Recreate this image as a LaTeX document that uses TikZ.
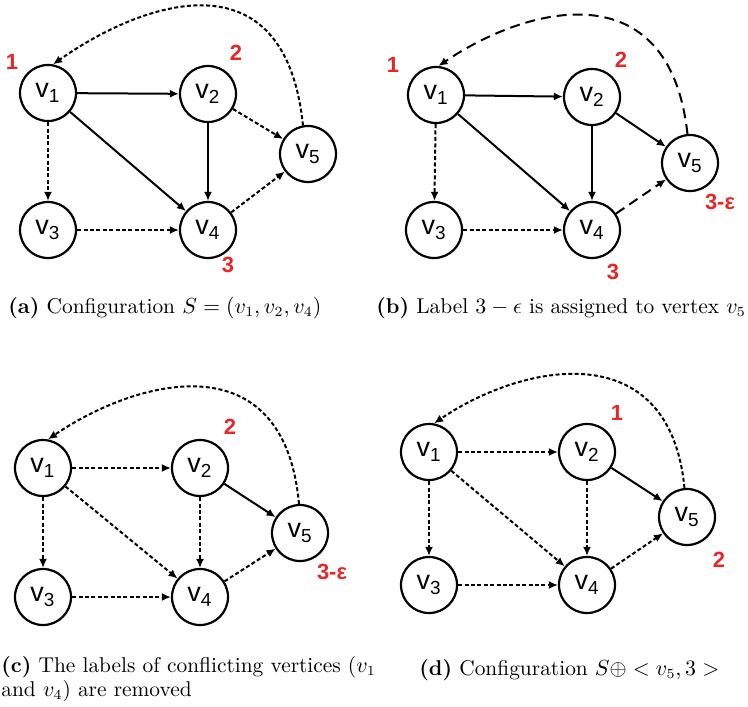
\documentclass[tikz,border=0pt]{standalone}
\usepackage{fontspec}
\usetikzlibrary{arrows.meta}
\newfontfamily\arialfont{Liberation Sans}
\definecolor{lblred}{RGB}{232,38,38}
\newcommand{\vlab}[1]{v\textsubscript{#1}}
\begin{document}
\begin{tikzpicture}[x=0.5pt,y=-0.5pt,
  vtx/.style={draw, circle, line width=1.1pt, minimum size=28pt, inner sep=0pt, font=\arialfont\fontsize{13.5}{15}\selectfont},
  lbl/.style={text=lblred, inner sep=0pt, font=\arialfont\bfseries\fontsize{11}{13}\selectfont},
  captxt/.style={anchor=west, inner sep=0pt, font=\fontsize{10.7}{9}\selectfont},
  solidedge/.style={draw, line width=1pt, -{Latex[length=4.5pt,width=4pt]}},
  dotedge/.style={draw, line width=1pt, dash pattern=on 2pt off 1.2pt, -{Latex[length=4.5pt,width=4pt]}},
  longedge/.style={draw, line width=1pt, dash pattern=on 5pt off 3pt, -{Latex[length=4.5pt,width=4pt]}}]
\useasboundingbox (0,0) rectangle (748,706);

% (a)
\node[vtx] (a1) at (48,93) {\vlab{1}};
\node[vtx] (a2) at (208,94) {\vlab{2}};
\node[vtx] (a3) at (48,230) {\vlab{3}};
\node[vtx] (a4) at (208,230) {\vlab{4}};
\node[vtx] (a5) at (308,154) {\vlab{5}};
\node[lbl] (la1) at (12,62) {1};
\node[lbl] (la2) at (236,53) {2};
\node[lbl] (la4) at (228,265) {3};

\path[solidedge] (a1) -- (a2);
\path[solidedge] (a1) -- (a4);
\path[solidedge] (a2) -- (a4);
\path[dotedge] (a1) -- (a3);
\path[dotedge] (a3) -- (a4);
\path[dotedge] (a2) -- (a5);
\path[dotedge] (a4) -- (a5);
\path[dotedge] (a5.100) .. controls +(-18,-175) and +(88,-62) .. (a1.80);

\node[captxt] (capa) at (8,308) {\textbf{(a)} Configuration $S=(v_1,v_2,v_4)$};

% (b)
\node[vtx] (b1) at (436,95) {\vlab{1}};
\node[vtx] (b2) at (592,97) {\vlab{2}};
\node[vtx] (b3) at (434,230) {\vlab{3}};
\node[vtx] (b4) at (592,230) {\vlab{4}};
\node[vtx] (b5) at (690,163) {\vlab{5}};
\node[lbl] (lb1) at (393,65) {1};
\node[lbl] (lb2) at (621,60) {2};
\node[lbl] (lb4) at (613,272) {3};
\node[lbl] (lb5) at (720,202) {3-ε};

\path[solidedge] (b1) -- (b2);
\path[solidedge] (b1) -- (b4);
\path[solidedge] (b2) -- (b4);
\path[solidedge] (b2) -- (b5);
\path[dotedge] (b1) -- (b3);
\path[dotedge] (b3) -- (b4);
\path[longedge] (b4) -- (b5);
\path[longedge] (b5.95) .. controls +(-18,-165) and +(88,-60) .. (b1.85);

\node[captxt] (capb) at (376,308) {\textbf{(b)} Label $3-\epsilon$ is assigned to vertex $v_5$};

% (c)
\node[vtx] (c1) at (43,468) {\vlab{1}};
\node[vtx] (c2) at (200,468) {\vlab{2}};
\node[vtx] (c3) at (43,597) {\vlab{3}};
\node[vtx] (c4) at (200,597) {\vlab{4}};
\node[vtx] (c5) at (300,533) {\vlab{5}};
\node[lbl] (lc2) at (230,427) {2};
\node[lbl] (lc5) at (332,572) {3-ε};

\path[dotedge] (c1) -- (c2);
\path[dotedge] (c1) -- (c4);
\path[dotedge] (c2) -- (c4);
\path[solidedge] (c2) -- (c5);
\path[dotedge] (c1) -- (c3);
\path[dotedge] (c3) -- (c4);
\path[dotedge] (c4) -- (c5);
\path[dotedge] (c5.92) .. controls +(-15,-165) and +(88,-60) .. (c1.80);

\node[captxt, align=left] (capc) at (1,679) {\textbf{(c)} The labels of conflicting vertices ($v_1$\\and $v_4$) are removed};

% (d)
\node[vtx] (d1) at (429,452) {\vlab{1}};
\node[vtx] (d2) at (587,452) {\vlab{2}};
\node[vtx] (d3) at (429,585) {\vlab{3}};
\node[vtx] (d4) at (587,585) {\vlab{4}};
\node[vtx] (d5) at (687,517) {\vlab{5}};
\node[lbl] (ld2) at (617,413) {1};
\node[lbl] (ld5) at (719,560) {2};

\path[dotedge] (d1) -- (d2);
\path[dotedge] (d1) -- (d4);
\path[dotedge] (d2) -- (d4);
\path[solidedge] (d2) -- (d5);
\path[dotedge] (d1) -- (d3);
\path[dotedge] (d3) -- (d4);
\path[dotedge] (d4) -- (d5);
\path[dotedge] (d5.95) .. controls +(-15,-155) and +(88,-60) .. (d1.80);

\node[captxt] (capd) at (419,670) {\textbf{(d)} Configuration $S\oplus < v_5,3 >$};
\end{tikzpicture}
\end{document}
